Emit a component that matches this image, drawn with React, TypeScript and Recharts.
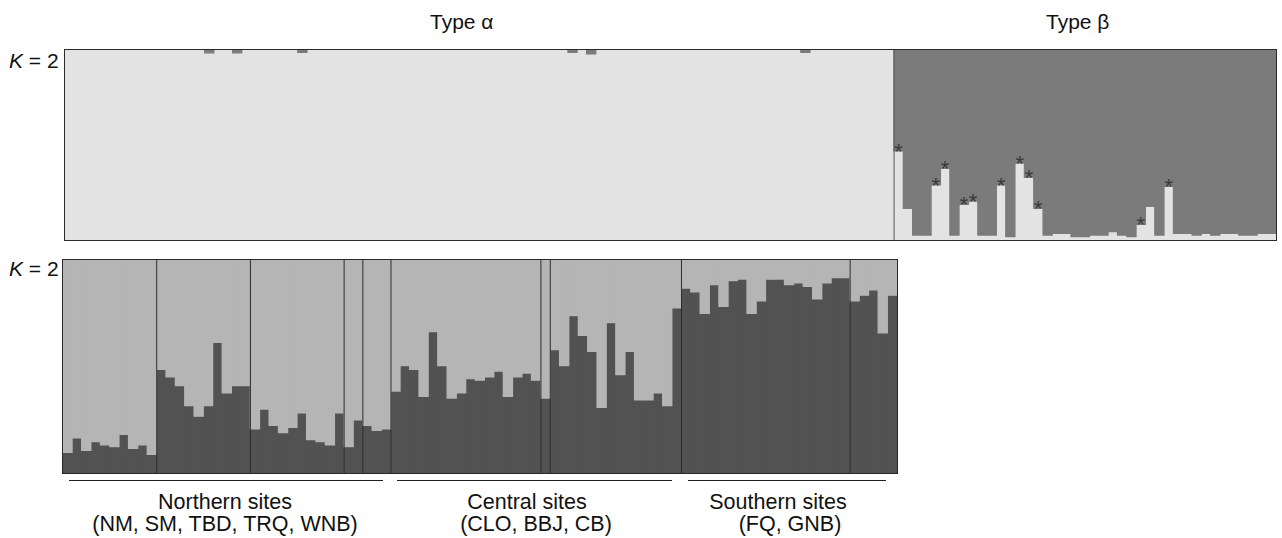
import { BarChart, Bar, XAxis, YAxis, ReferenceLine, LabelList } from 'recharts'

// K = 2, all individuals: dark-cluster share for type α (tiny bits at the top)
const alphaTopDark = [
  0, 0, 0, 0, 0, 0, 0, 0, 0, 0,
  0, 0, 0, 0, 0, 0.015, 0, 0, 0.015, 0,
  0, 0, 0, 0, 0, 0.012, 0, 0, 0, 0,
  0, 0, 0, 0, 0, 0, 0, 0, 0, 0,
  0, 0, 0, 0, 0, 0, 0, 0, 0, 0,
  0, 0, 0, 0, 0.012, 0, 0.02, 0, 0, 0,
  0, 0, 0, 0, 0, 0, 0, 0, 0, 0,
  0, 0, 0, 0, 0, 0, 0, 0, 0, 0.012,
  0, 0, 0, 0, 0, 0, 0, 0, 0,
]
// light-cluster share for type β individuals
const betaTopLight = [
  0.47, 0.167, 0.026, 0.026, 0.291, 0.377, 0.026, 0.188, 0.205, 0.026,
  0.026, 0.291, 0.018, 0.405, 0.33, 0.167, 0.026, 0.035, 0.035, 0.018,
  0.018, 0.026, 0.026, 0.044, 0.026, 0.018, 0.082, 0.177, 0.026, 0.282,
  0.035, 0.035, 0.026, 0.035, 0.026, 0.035, 0.035, 0.026, 0.026, 0.035,
  0.035,
]
const betaStars = [0, 4, 5, 7, 8, 11, 13, 14, 15, 26, 29]

// K = 2, type α only: dark-cluster share per site
const sites = ['NM', 'SM', 'TBD', 'TRQ', 'WNB', 'CLO', 'BBJ', 'CB', 'FQ', 'GNB']
const nm = [0.097, 0.165, 0.107, 0.148, 0.132, 0.124, 0.182, 0.116, 0.132, 0.088]
const sm = [0.487, 0.452, 0.41, 0.317, 0.267, 0.317, 0.614, 0.377, 0.41, 0.41]
const tbd = [0.207, 0.3, 0.224, 0.19, 0.215, 0.283, 0.157, 0.148, 0.132, 0.283]
const trq = [0.124, 0.25]
const wnb = [0.224, 0.2, 0.207]
const clo = [0.385, 0.504, 0.487, 0.36, 0.664, 0.504, 0.352, 0.377, 0.444, 0.436, 0.452, 0.479, 0.36, 0.452, 0.469, 0.436]
const bbj = [0.352]
const cb = [0.579, 0.504, 0.739, 0.647, 0.571, 0.309, 0.706, 0.462, 0.571, 0.344, 0.344, 0.377, 0.317, 0.776]
const fq = [0.868, 0.851, 0.75, 0.885, 0.783, 0.903, 0.911, 0.75, 0.808, 0.911, 0.911, 0.885, 0.893, 0.876, 0.818, 0.893, 0.918, 0.918]
const gnb = [0.808, 0.835, 0.86, 0.658, 0.835]
const siteValues = [nm, sm, tbd, trq, wnb, clo, bbj, cb, fq, gnb]

const regions = [
  { name: 'Northern sites', list: '(NM, SM, TBD, TRQ, WNB)', x1: 69, x2: 383, cx: 225, lx: 225 },
  { name: 'Central sites', list: '(CLO, BBJ, CB)', x1: 397, x2: 672, cx: 527, lx: 536 },
  { name: 'Southern sites', list: '(FQ, GNB)', x1: 688, x2: 886, cx: 778, lx: 790 },
]

const topData = [
  ...alphaTopDark.map((d, i) => ({ id: `a${i}`, light: 1 - d, dark: d, star: '' })),
  ...betaTopLight.map((l, i) => ({ id: `b${i}`, light: l, dark: 1 - l, star: betaStars.includes(i) ? '*' : '' })),
]

const bottomData = siteValues.flatMap((vals, s) =>
  vals.map((v, i) => ({ id: `${sites[s]}${i}`, dark: v, light: 1 - v })))
const siteStarts = siteValues.slice(1).map((_, s) => `${sites[s + 1]}0`)

const font = '"Liberation Sans", Arial, Helvetica, sans-serif'

// recharts floors the bar width, so a stroke in the fill colour closes the gaps
const colours = { topLight: '#e3e3e3', topDark: '#7b7b7b', botLight: '#b5b5b5', botDark: '#525252' }

const renderStar = (props: any) => {
  const { x, y, width, value } = props
  if (!value) return null
  return (
    <text x={x + width / 2} y={y + 8} textAnchor="middle" fontSize={22} fill="#3a3a3a" fontFamily={font}>
      *
    </text>
  )
}

function KLabel({ top }: { top: number }) {
  return (
    <div style={{ position: 'absolute', left: 9, top, fontSize: 21, fontFamily: font, color: '#111', lineHeight: 1 }}>
      <i>K</i> = 2
    </div>
  )
}

export default function App() {
  return (
    <div style={{ position: 'absolute', left: 0, top: 0, width: 1282, height: 538, background: '#fff', fontFamily: font }}>
      <div style={{ position: 'absolute', left: 430, top: 10, fontSize: 21, color: '#111' }}>Type α</div>
      <div style={{ position: 'absolute', left: 1046, top: 10, fontSize: 21, color: '#111' }}>Type β</div>
      <KLabel top={50} />
      <KLabel top={258} />

      <div style={{ position: 'absolute', left: 65, top: 50 }}>
        <BarChart width={1211} height={190} data={topData} margin={{ top: 0, right: 0, bottom: 0, left: 0 }}
          barCategoryGap={0} barGap={0}>
          <XAxis dataKey="id" hide />
          <YAxis hide domain={[0, 1]} />
          <Bar dataKey="light" stackId="k" fill={colours.topLight} stroke={colours.topLight} strokeWidth={1.4}
            isAnimationActive={false}>
            <LabelList dataKey="star" content={renderStar} />
          </Bar>
          <Bar dataKey="dark" stackId="k" fill={colours.topDark} stroke={colours.topDark} strokeWidth={1.4}
            isAnimationActive={false} />
          <ReferenceLine x="b0" position="start" stroke="#555" strokeWidth={1} />
        </BarChart>
      </div>
      <div style={{ position: 'absolute', left: 64, top: 49, width: 1213, height: 192, border: '1px solid #2a2a2a', boxSizing: 'border-box', pointerEvents: 'none' }} />

      <div style={{ position: 'absolute', left: 63, top: 260 }}>
        <BarChart width={834} height={213} data={bottomData} margin={{ top: 0, right: 0, bottom: 0, left: 0 }}
          barCategoryGap={0} barGap={0}>
          <XAxis dataKey="id" hide />
          <YAxis hide domain={[0, 1]} />
          <Bar dataKey="dark" stackId="k" fill={colours.botDark} stroke={colours.botDark} strokeWidth={1.4}
            isAnimationActive={false} />
          <Bar dataKey="light" stackId="k" fill={colours.botLight} stroke={colours.botLight} strokeWidth={1.4}
            isAnimationActive={false} />
          {siteStarts.map(id => (
            <ReferenceLine key={id} x={id} position="start" stroke="#2e2e2e" strokeWidth={1} />
          ))}
        </BarChart>
      </div>
      <div style={{ position: 'absolute', left: 62, top: 259, width: 836, height: 215, border: '1px solid #2a2a2a', boxSizing: 'border-box', pointerEvents: 'none' }} />

      {regions.map(r => (
        <div key={r.name}>
          <div style={{ position: 'absolute', left: r.x1, top: 480, width: r.x2 - r.x1, height: 1, background: '#222' }} />
          <div style={{ position: 'absolute', left: r.cx - 150, width: 300, top: 490, textAlign: 'center', fontSize: 21.5, color: '#111' }}>{r.name}</div>
          <div style={{ position: 'absolute', left: r.lx - 150, width: 300, top: 512, textAlign: 'center', fontSize: 21.5, color: '#111' }}>{r.list}</div>
        </div>
      ))}
    </div>
  )
}
